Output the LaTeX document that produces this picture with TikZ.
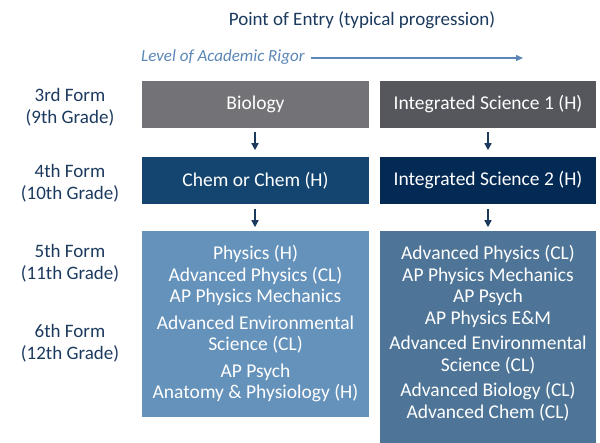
\documentclass[tikz,border=0pt]{standalone}
\usepackage{fontspec}
\setmainfont{Carlito}
\usetikzlibrary{arrows.meta}
\definecolor{navy}{HTML}{1B3A5E}
\definecolor{rigor}{HTML}{5B86B5}
\definecolor{biogray}{HTML}{737276}
\definecolor{isgray}{HTML}{55575C}
\definecolor{chemblue}{HTML}{134570}
\definecolor{isblue}{HTML}{032A55}
\definecolor{upleft}{HTML}{6592BB}
\definecolor{upright}{HTML}{4E7597}
\tikzset{
  course/.style={fill=#1, minimum height=47pt, inner sep=0pt, text=white,
    font=\fontsize{19.5}{22}\selectfont},
  upper/.style={fill=#1, inner sep=0pt},
  listing/.style={text=white, align=center, anchor=north, inner sep=0pt,
    font=\fontsize{19.5}{21.5}\selectfont},
  form/.style={text=navy, align=center, font=\fontsize{19}{21.5}\selectfont},
  down/.style={-{Triangle[length=7pt,width=7pt]}, navy, line width=1.5pt}
}
\begin{document}
\begin{tikzpicture}[x=1pt,y=-1pt]
      \useasboundingbox (0,0) rectangle (600,443);
      \node[text=navy, font=\fontsize{19}{22}\selectfont] (entry) at (362,20) {Point of Entry (typical progression)};
      \node[text=rigor, font=\fontsize{17}{20}\itshape, anchor=west, inner sep=0pt] (rigor) at (141,57) {Level of Academic Rigor};
      \coordinate (rigorend) at (523,58);
      \draw[rigor, line width=1.3pt, -{Triangle[length=7pt,width=6pt]}] (rigor.east) ++(6,1) -- (rigorend);

      % grade labels
      \node[form] (f3) at (70,107) {3rd Form\\(9th Grade)};
      \node[form] (f4) at (70,183) {4th Form\\(10th Grade)};
      \node[form] (f5) at (70,263) {5th Form\\(11th Grade)};
      \node[form] (f6) at (70,343) {6th Form\\(12th Grade)};

      % courses
      \node[course=biogray, minimum width=227pt] (bio) at (255.5,104.5) {Biology};
      \node[course=isgray, minimum width=216pt] (is1) at (488,104.5) {Integrated Science 1 (H)};
      \node[course=chemblue, minimum width=227pt] (chem) at (255.5,180.5) {Chem or Chem (H)};
      \node[course=isblue, minimum width=216pt] (is2) at (488,180.5) {Integrated Science 2 (H)};
      \node[upper=upleft, minimum width=227pt, minimum height=186pt] (advl) at (255.5,324) {};
      \node[upper=upright, minimum width=216pt, minimum height=212pt] (advr) at (488,337) {};

      \node[listing] (listl) at (255.5,245.5)
        {Physics (H)\\Advanced Physics (CL)\\AP Physics Mechanics\\[5pt]
         Advanced Environmental\\Science (CL)\\[5pt]AP Psych\\Anatomy \& Physiology (H)};
      \node[listing] (listr) at (488,245.5)
        {Advanced Physics (CL)\\AP Physics Mechanics\\AP Psych\\AP Physics E\&M\\[4pt]
         Advanced Environmental\\Science (CL)\\[4pt]Advanced Biology (CL)\\Advanced Chem (CL)};

      \begin{scope}[down]
        \draw (bio.south) ++(-0.5,4) coordinate (a1) (a1) -- ++(0,18);
        \draw (is1.south) ++(0,4) coordinate (a2) (a2) -- ++(0,18);
        \draw (chem.south) ++(-0.5,5) coordinate (a3) (a3) -- ++(0,18);
        \draw (is2.south) ++(0,5) coordinate (a4) (a4) -- ++(0,18);
      \end{scope}
    \end{tikzpicture}
\end{document}
